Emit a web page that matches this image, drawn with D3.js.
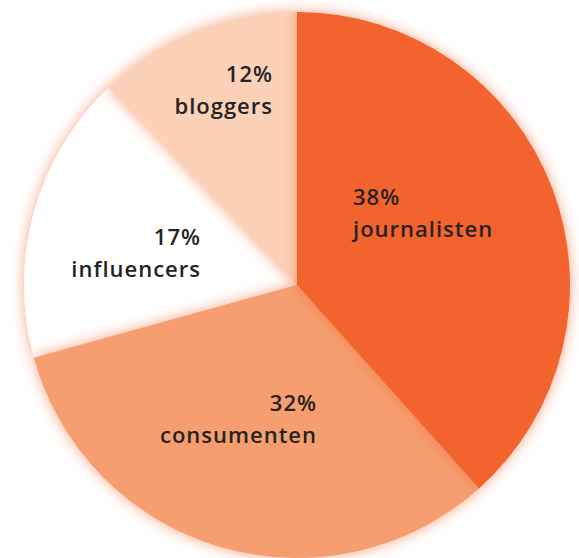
<!DOCTYPE html>
<html>
<head>
<meta charset="utf-8">
<script src="https://cdn.jsdelivr.net/npm/d3@7"></script>
<style>
  body { margin: 0; background: #fff; }
  svg { display: block; }
</style>
</head>
<body>
<script>
const width = 579;
const height = 558;

// data
const labels = ["journalisten", "consumenten", "influencers", "bloggers"];
const values = [38, 32, 17, 12];
const colors = ["#F2632D", "#F69E70", "#FFFFFF", "#FBD1B8"];
// draw order so each slice's glow falls on the right neighbour
const drawOrder = ["influencers", "bloggers", "consumenten", "journalisten"];

const cx = 297, cy = 285, radius = 273;

const svg = d3.select("body")
    .append("svg")
    .attr("width", width)
    .attr("height", height);

// orange glow
const defs = svg.append("defs");
const glow = defs.append("filter")
    .attr("id", "glow")
    .attr("x", "-20%").attr("y", "-20%")
    .attr("width", "140%").attr("height", "140%");
glow.append("feGaussianBlur")
    .attr("in", "SourceAlpha")
    .attr("stdDeviation", 7)
    .attr("result", "blur");
glow.append("feFlood")
    .attr("flood-color", "#F26A35")
    .attr("flood-opacity", 0.6);
glow.append("feComposite")
    .attr("in2", "blur")
    .attr("operator", "in")
    .attr("result", "shadow");
const merge = glow.append("feMerge");
merge.append("feMergeNode").attr("in", "shadow");
merge.append("feMergeNode").attr("in", "SourceGraphic");

const data = labels.map((d, i) => ({ label: d, value: values[i], color: colors[i] }));

const pie = d3.pie()
    .value(d => d.value)
    .sort(null);

const arc = d3.arc()
    .innerRadius(0)
    .outerRadius(radius);

const arcs = pie(data)
    .sort((a, b) => drawOrder.indexOf(a.data.label) - drawOrder.indexOf(b.data.label));

const g = svg.append("g")
    .attr("transform", `translate(${cx},${cy})`);

g.selectAll("path")
    .data(arcs)
    .enter()
    .append("path")
    .attr("d", arc)
    .attr("fill", d => d.data.color)
    .attr("filter", "url(#glow)");

// labels (position relative to centre, anchor)
const labelPos = {
    journalisten: { x: 56, y: -80, anchor: "start" },
    consumenten: { x: 20, y: 126, anchor: "end" },
    influencers: { x: -96, y: -40, anchor: "end" },
    bloggers: { x: -24, y: -203, anchor: "end" }
};

const lab = g.selectAll("g.lab")
    .data(arcs)
    .enter()
    .append("g")
    .attr("class", "lab")
    .attr("transform", d => `translate(${labelPos[d.data.label].x},${labelPos[d.data.label].y})`)
    .attr("text-anchor", d => labelPos[d.data.label].anchor)
    .style("font-family", "'Open Sans', sans-serif")
    .style("font-weight", 600)
    .style("font-size", "22px")
    .style("letter-spacing", "1px")
    .attr("fill", "#252323");

lab.append("text")
    .attr("y", 0)
    .text(d => d.data.value + "%");

lab.append("text")
    .attr("y", 32)
    .text(d => d.data.label);
</script>
</body>
</html>
